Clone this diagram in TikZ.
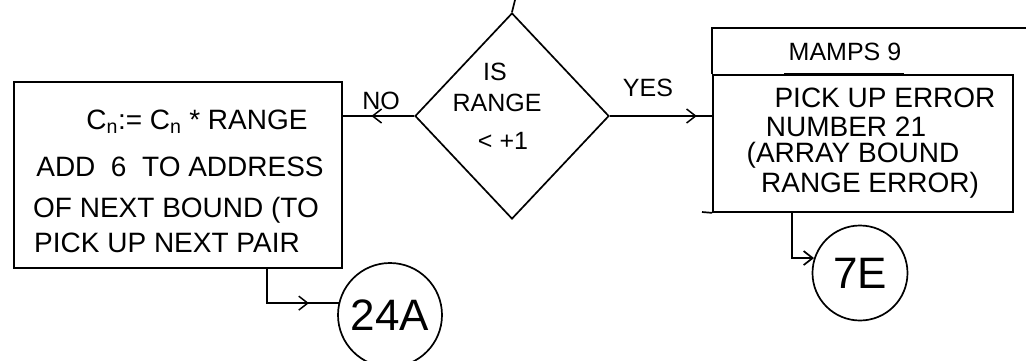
\documentclass[tikz,border=0pt]{standalone}
\usepackage{fontspec}
\setmainfont{Liberation Sans}
\usetikzlibrary{shapes.geometric,arrows.meta,decorations.markings}
\begin{document}
\begin{tikzpicture}[x=1pt,y=-1pt,line width=1.7pt,
  box/.style={draw,inner sep=0pt},
  txt/.style={inner sep=0pt,font=\fontsize{28}{30}\selectfont},
  dtxt/.style={inner sep=0pt,font=\fontsize{25}{27}\selectfont},
  circ/.style={draw,circle,inner sep=0pt,font=\fontsize{44}{48}\selectfont},
  midarrow/.style={postaction={decorate},decoration={markings,mark=at position #1 with {\arrow[line width=1.5pt]{Straight Barb[length=9pt,width=14pt]}}}},
  endarrow/.style={-{Straight Barb[length=9pt,width=14pt]}}]
\useasboundingbox (0,0) rectangle (1026,360);

% left box
\node[box,minimum width=328pt,minimum height=186pt] (lbox) at (178,175) {};
\node[txt] (l1) at (197,122) {C\textsubscript{n}:= C\textsubscript{n} * RANGE};
\node[txt] (l2) at (180,167) {ADD \ 6 \ TO ADDRESS};
\node[txt] (l3) at (176,210) {OF NEXT BOUND (TO};
\node[txt] (l4) at (167,243) {PICK UP NEXT PAIR};

% decision
\coordinate (entry) at (515,0);
\node[draw,diamond,inner sep=0pt,minimum width=194pt,minimum height=206pt] (dec) at (512,116) {};
\draw (entry) -- (dec.north);
\node[dtxt] (d1) at (495,72) {IS};
\node[dtxt] (d2) at (497,103) {RANGE};
\node[dtxt] (d3) at (503,141) {< +1};

% labels
\node[dtxt] (no) at (381,101) {NO};
\node[dtxt] (yes) at (648,88) {YES};

% right box
\node[box,minimum width=300pt,minimum height=137pt] (rbox) at (863,143.5) {};
\coordinate (hdrR) at (1026,28);
\draw (rbox.north west) |- (hdrR);
\coordinate (bl) at (702,212);
\draw (bl) -- (rbox.south west);
\node[dtxt] (mamps) at (845,52) {MAMPS 9};
\draw[line width=3.2pt] ([xshift=72pt]rbox.north west) -- ([xshift=192pt]rbox.north west);
\node[txt] (r1) at (885,98) {PICK UP ERROR};
\node[txt] (r2) at (846,127) {NUMBER 21};
\node[txt] (r3) at (853,155) {(ARRAY BOUND};
\node[txt] (r4) at (870,185) {RANGE ERROR)};

% decision connectors
\draw[midarrow=0.6] (dec.west) -- (lbox.east |- dec.west);
\draw[midarrow=0.85] (dec.east) -- (rbox.west |- dec.east);

% connectors to circles
\node[circ,minimum size=104pt] (c24) at (390,315) {24A};
\node[circ,minimum size=95pt] (c7) at (860,273) {7E};
\draw[midarrow=0.72] ([xshift=254pt]lbox.south west) |- (c24.167);
\draw[endarrow] ([xshift=80pt]rbox.south west) |- (c7.162);
\end{tikzpicture}
\end{document}
